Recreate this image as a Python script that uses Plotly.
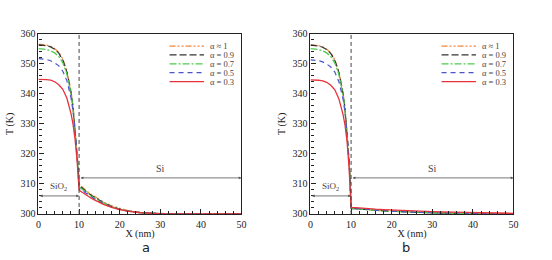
import plotly.graph_objects as go

# ---------------- data ----------------
X = [0, 1, 2, 3, 4, 5, 6, 7, 8, 8.5, 9, 9.5, 9.8, 10,
     10.3, 11, 12, 13, 14, 16, 18, 20, 22, 25, 30, 35, 40, 45, 50]

alphas = ["α ≈ 1", "α = 0.9", "α = 0.7", "α = 0.5", "α = 0.3"]

# panel a
Ta_1  = [356.5, 356.4, 356.2, 355.8, 355.0, 353.8, 351.5, 347.5, 341.0, 336.0, 329.0, 320.0, 315.0, 310.0,
         309.5, 308.6, 307.5, 306.5, 305.6, 304.0, 302.7, 301.8, 301.1, 300.5, 300.1, 300.0, 300.0, 300.0, 300.0]
Ta_09 = [356.3, 356.2, 356.0, 355.6, 354.8, 353.5, 351.2, 347.2, 340.7, 335.7, 328.8, 319.8, 314.8, 309.7,
         309.2, 308.3, 307.1, 306.2, 305.3, 303.8, 302.5, 301.6, 301.0, 300.5, 300.1, 300.0, 300.0, 300.0, 300.0]
Ta_07 = [355.0, 354.9, 354.7, 354.3, 353.6, 352.4, 350.3, 346.5, 340.2, 335.3, 328.5, 319.5, 314.5, 309.2,
         308.7, 307.9, 306.8, 305.9, 305.1, 303.6, 302.4, 301.5, 300.9, 300.4, 300.1, 300.0, 300.0, 300.0, 300.0]
Ta_05 = [351.7, 351.6, 351.4, 351.0, 350.3, 349.3, 347.5, 344.3, 338.7, 334.3, 328.0, 319.0, 314.0, 308.7,
         308.2, 307.5, 306.5, 305.6, 304.8, 303.4, 302.3, 301.5, 300.9, 300.4, 300.1, 300.0, 300.0, 300.0, 300.0]
Ta_03 = [344.8, 344.8, 344.7, 344.5, 344.0, 343.0, 341.5, 338.5, 333.5, 330.0, 325.0, 318.0, 313.5, 308.0,
         307.6, 306.9, 306.0, 305.2, 304.5, 303.2, 302.2, 301.4, 300.9, 300.4, 300.05, 300.0, 300.0, 300.0, 300.0]

# panel b
Tb_1  = [356.3, 356.2, 356.0, 355.6, 354.8, 353.6, 351.3, 347.3, 340.5, 335.3, 327.8, 318.0, 311.0, 302.0,
         301.9, 301.8, 301.7, 301.6, 301.5, 301.3, 301.1, 300.9, 300.8, 300.6, 300.4, 300.25, 300.15, 300.05, 300.0]
Tb_09 = [356.2, 356.1, 355.9, 355.5, 354.7, 353.4, 351.1, 347.1, 340.3, 335.1, 327.6, 317.8, 310.8, 301.9,
         301.8, 301.7, 301.6, 301.5, 301.4, 301.2, 301.0, 300.85, 300.7, 300.55, 300.35, 300.2, 300.1, 300.05, 300.0]
Tb_07 = [355.0, 354.9, 354.7, 354.3, 353.6, 352.4, 350.2, 346.4, 339.9, 334.8, 327.4, 317.6, 310.6, 301.9,
         301.8, 301.7, 301.6, 301.5, 301.4, 301.2, 301.0, 300.85, 300.7, 300.55, 300.35, 300.2, 300.1, 300.05, 300.0]
Tb_05 = [351.3, 351.2, 351.0, 350.6, 349.9, 348.9, 347.2, 344.0, 338.4, 333.9, 327.0, 317.3, 310.4, 302.0,
         301.9, 301.8, 301.7, 301.6, 301.5, 301.3, 301.1, 300.9, 300.75, 300.6, 300.4, 300.25, 300.15, 300.05, 300.0]
Tb_03 = [344.6, 344.6, 344.5, 344.3, 343.8, 342.8, 341.3, 338.3, 333.2, 329.6, 324.2, 315.5, 309.5, 302.3,
         302.2, 302.1, 302.0, 301.9, 301.8, 301.6, 301.45, 301.3, 301.15, 301.0, 300.8, 300.6, 300.45, 300.3, 300.2]

X_TICKS = [0, 10, 20, 30, 40, 50]
Y_TICKS = [300, 310, 320, 330, 340, 350, 360]
panel_labels = ["a", "b"]

# ---------------- styles ----------------
colors = ["#f0873a", "#333333", "#4ccc4c", "#4a55c8", "#e8313a"]
dashes = ["6px,2px,2px,2px,2px,2px", "7px,3px", "7px,2px,2px,2px", "5px,4px", "solid"]
widths = [1.3, 1.2, 1.3, 1.2, 1.3]

SERIF = "Liberation Serif"
W, H = 552, 260

fig = go.Figure()

panels = [
    ("x", "y", [Ta_1, Ta_09, Ta_07, Ta_05, Ta_03]),
    ("x2", "y2", [Tb_1, Tb_09, Tb_07, Tb_05, Tb_03]),
]

for xa, ya, series in panels:
    for i, T in enumerate(series):
        fig.add_trace(go.Scatter(
            x=X, y=T, mode="lines", name=alphas[i], showlegend=False,
            xaxis=xa, yaxis=ya,
            line=dict(color=colors[i], dash=dashes[i], width=widths[i]),
        ))

dom_x = [[36 / W, 242 / W], [312 / W, 518 / W]]
dom_y = [42 / H, 231 / H]

axis_common = dict(
    showline=True, linecolor="#222", linewidth=1.2, mirror=True,
    ticks="inside", ticklen=5, tickwidth=1, tickcolor="#222",
    showgrid=False, zeroline=False,
    tickfont=dict(family=SERIF, size=10, color="#222"),
)

fig.update_layout(
    width=W, height=H,
    margin=dict(l=0, r=0, t=0, b=0),
    paper_bgcolor="white", plot_bgcolor="white",
    showlegend=False,
)

for k, (xa, ya) in enumerate([("xaxis", "yaxis"), ("xaxis2", "yaxis2")]):
    xname = "x" if k == 0 else "x2"
    yname = "y" if k == 0 else "y2"
    fig.layout[xa] = dict(
        axis_common, domain=dom_x[k], range=[0, 50], anchor=yname,
        tickvals=X_TICKS, ticklabelstandoff=1,
        minor=dict(dtick=2, ticks="inside", ticklen=3, tickcolor="#222"),
        title=dict(text="X (nm)", font=dict(family=SERIF, size=10, color="#222"), standoff=0),
    )
    fig.layout[ya] = dict(
        axis_common, domain=dom_y, range=[300, 360], anchor=xname,
        tickvals=Y_TICKS,
        minor=dict(dtick=2, ticks="inside", ticklen=3, tickcolor="#222"),
        title=dict(text="T (K)", font=dict(family=SERIF, size=10, color="#222"), standoff=4),
    )

    # interface line
    fig.add_shape(type="line", xref=xname, yref=yname, x0=10, x1=10, y0=300, y1=360,
                  line=dict(color="#444", width=1, dash="4px,3px"))
    # region arrows
    for (xs, xe, yy) in [(0, 10, 306), (10, 50, 312)]:
        fig.add_annotation(x=xe, y=yy, ax=xs, ay=yy, xref=xname, yref=yname,
                           axref=xname, ayref=yname, text="", showarrow=True,
                           arrowhead=2, startarrowhead=2, arrowside="end+start",
                           arrowsize=0.7, startarrowsize=0.7, arrowwidth=0.8,
                           arrowcolor="#555")
    fig.add_annotation(x=5, y=306, xref=xname, yref=yname, text="SiO<sub>2</sub>",
                       showarrow=False, yanchor="bottom", yshift=2,
                       font=dict(family=SERIF, size=9, color="#444"))
    fig.add_annotation(x=30, y=312, xref=xname, yref=yname, text="Si",
                       showarrow=False, yanchor="bottom", yshift=2,
                       font=dict(family=SERIF, size=10, color="#444"))
    # panel label
    fig.add_annotation(x=(dom_x[k][0] + dom_x[k][1]) / 2, y=0, xref="paper", yref="paper",
                       text=panel_labels[k], showarrow=False, yanchor="bottom", yshift=-3,
                       height=15, valign="middle",
                       font=dict(family="DejaVu Sans", size=13, color="#222"))

    # manual legend (line samples + labels)
    off = 0 if k == 0 else 276
    for i, name in enumerate(alphas):
        yy = 1 - (42 + i * 9.3) / H
        fig.add_shape(type="line", xref="paper", yref="paper",
                      x0=(169 + off) / W, x1=(204 + off) / W, y0=yy, y1=yy,
                      line=dict(color=colors[i], dash=dashes[i], width=widths[i]))
        fig.add_annotation(x=(209 + off) / W, y=yy, xref="paper", yref="paper",
                           text=name, showarrow=False, xanchor="left", yanchor="middle",
                           height=8, valign="middle", borderpad=0,
                           font=dict(family=SERIF, size=8.5, color="#444"))

fig.write_html("out.html", config={"displayModeBar": False},
               post_script="document.body.style.margin='0';")
